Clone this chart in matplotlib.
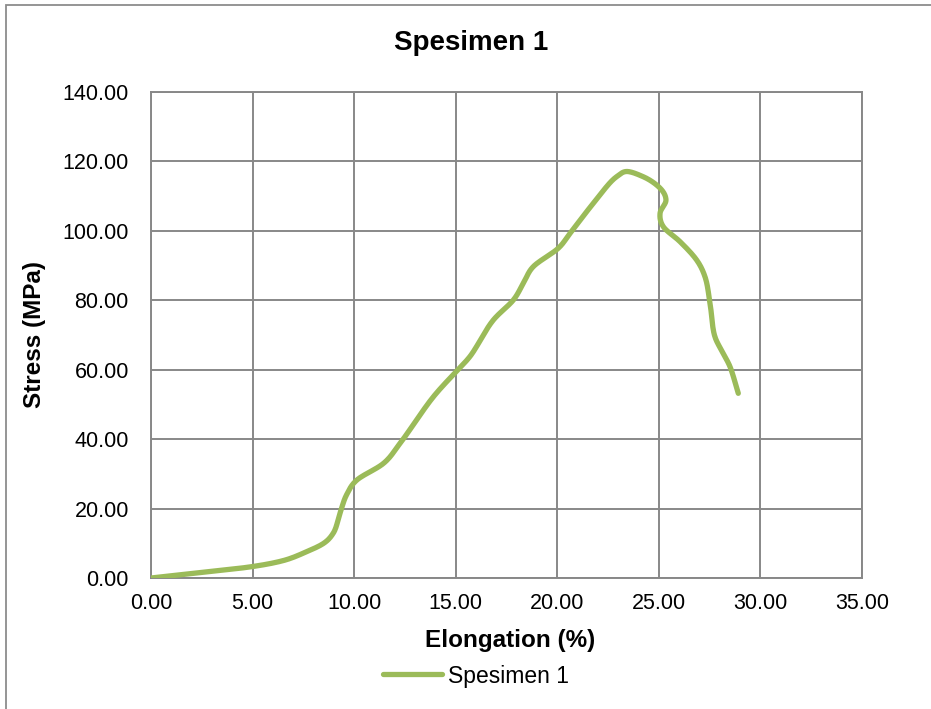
import numpy as np
import matplotlib
matplotlib.use("Agg")
import matplotlib.pyplot as plt
from matplotlib.patches import Rectangle

plt.rcParams['font.family'] = ['Liberation Sans', 'DejaVu Sans']

# Tensile test readings: elongation (%) and stress (MPa)
elongation = [0.00, 2.50, 5.00, 6.50, 7.67, 8.50, 8.97, 9.30, 9.63, 10.13,
              11.44, 12.26, 13.90, 15.01, 15.70, 16.85, 17.84, 18.33, 18.82,
              20.05, 20.63, 21.77, 22.92, 23.42, 24.23, 25.06, 25.35, 25.06,
              25.22, 26.04, 26.86, 27.27, 27.52, 27.76, 28.17, 28.50, 28.91]
stress = [0.00, 1.60, 3.30, 5.00, 7.60, 10.00, 12.90, 18.60, 24.00, 28.20,
          33.00, 38.80, 52.20, 59.40, 63.80, 74.30, 80.10, 84.90, 89.70,
          95.00, 99.30, 107.90, 115.60, 117.10, 115.60, 112.30, 108.90, 105.10,
          101.20, 96.90, 91.60, 86.80, 79.10, 69.50, 64.70, 60.90, 53.20]

x_ticks = [0, 5, 10, 15, 20, 25, 30, 35]
y_ticks = [0, 20, 40, 60, 80, 100, 120, 140]

series_name = "Spesimen 1"
line_color = "#9BBB59"
grid_color = "#888888"


def smooth(x, y, n=20):
    """Centripetal Catmull-Rom curve through the points (Excel-style smoothed line)."""
    p = np.column_stack([x, y]).astype(float)
    p = np.vstack([2 * p[0] - p[1], p, 2 * p[-1] - p[-2]])
    out = []
    for i in range(1, len(p) - 2):
        p0, p1, p2, p3 = p[i - 1], p[i], p[i + 1], p[i + 2]
        t0 = 0.0
        t1 = t0 + np.linalg.norm(p1 - p0) ** 0.5 + 1e-9
        t2 = t1 + np.linalg.norm(p2 - p1) ** 0.5 + 1e-9
        t3 = t2 + np.linalg.norm(p3 - p2) ** 0.5 + 1e-9
        t = np.linspace(t1, t2, n)[:, None]
        a1 = (t1 - t) / (t1 - t0) * p0 + (t - t0) / (t1 - t0) * p1
        a2 = (t2 - t) / (t2 - t1) * p1 + (t - t1) / (t2 - t1) * p2
        a3 = (t3 - t) / (t3 - t2) * p2 + (t - t2) / (t3 - t2) * p3
        b1 = (t2 - t) / (t2 - t0) * a1 + (t - t0) / (t2 - t0) * a2
        b2 = (t3 - t) / (t3 - t1) * a2 + (t - t1) / (t3 - t1) * a3
        c = (t2 - t) / (t2 - t1) * b1 + (t - t1) / (t2 - t1) * b2
        out.append(c if i == 1 else c[1:])
    c = np.vstack(out)
    return c[:, 0], c[:, 1]


fig = plt.figure(figsize=(9.31, 7.09), dpi=100)
fig.patch.set_facecolor("white")

# chart frame
fig.add_artist(Rectangle((6 / 931, -0.05), 1.05, 1 - 5 / 709 + 0.05,
                         transform=fig.transFigure, fill=False,
                         edgecolor="#8c8c8c", linewidth=1.3))

ax = fig.add_axes([151 / 931, 1 - 578 / 709, (862 - 151) / 931, (578 - 92) / 709])

sx, sy = smooth(elongation, stress)
ax.plot(sx, sy, color=line_color, linewidth=3.8, solid_capstyle="round",
        solid_joinstyle="round", label=series_name, zorder=3)

ax.set_xlim(0, 35)
ax.set_ylim(0, 140)
ax.set_xticks(x_ticks)
ax.set_yticks(y_ticks)
ax.set_xticklabels([f"{v:.2f}" for v in x_ticks])
ax.set_yticklabels([f"{v:.2f}" for v in y_ticks])
ax.tick_params(axis="both", length=0, labelsize=15.5, colors="black")
ax.tick_params(axis="x", pad=11)
ax.tick_params(axis="y", pad=16)

ax.grid(True, color=grid_color, linewidth=1.4)
ax.set_axisbelow(True)
for s in ax.spines.values():
    s.set_color(grid_color)
    s.set_linewidth(1.4)

fig.text(471 / 931, 1 - 43 / 709, series_name, ha="center", va="center",
         fontsize=20, fontweight="bold")
fig.text(510 / 931, 1 - 640 / 709, "Elongation (%)", ha="center", va="center",
         fontsize=17.5, fontweight="bold")
fig.text(35 / 931, 1 - 335 / 709, "Stress (MPa)", ha="center", va="center",
         rotation=90, fontsize=17.5, fontweight="bold")

leg = fig.legend(loc="center", bbox_to_anchor=(476 / 931, 1 - 676 / 709),
                 frameon=False, fontsize=16.5, handlelength=2.6,
                 handletextpad=0.25, borderpad=0)

fig.savefig("out.png", dpi=100)
